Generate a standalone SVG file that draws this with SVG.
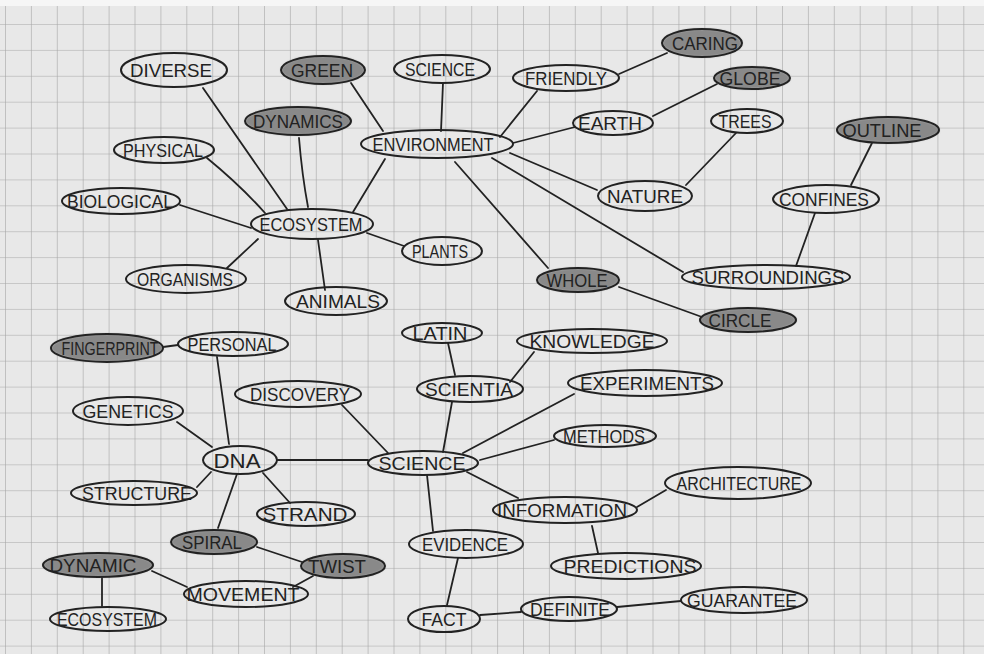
<svg xmlns="http://www.w3.org/2000/svg" width="984" height="654" viewBox="0 0 984 654">
<defs>
<pattern id="grid" x="5" y="24" width="25.9" height="25.9" patternUnits="userSpaceOnUse">
<path d="M0 0H25.9M0 0V25.9" fill="none" stroke="#a6a6a6" stroke-width="1.2"/>
</pattern>
<filter id="blur" x="-10%" y="-30%" width="120%" height="160%"><feGaussianBlur stdDeviation="1.2"/></filter>
</defs>
<style>
.n ellipse{fill:none;stroke:#222;stroke-width:2}
.s ellipse.f{fill:#898989;stroke:none;filter:url(#blur)}
.s ellipse.o{fill:none;stroke:#222;stroke-width:2}
text{font-family:"Liberation Sans","DejaVu Sans",sans-serif;font-size:19px;fill:#222;text-anchor:middle}
#connectors path{fill:none;stroke:#222;stroke-width:1.8;stroke-linecap:round}
</style>
<rect width="984" height="654" fill="#e8e8e8"/>
<rect width="984" height="654" fill="url(#grid)"/>
<rect width="984" height="6" fill="#f6f6f6"/>

<g id="connectors">
<path d="M203 88L287 209"/>
<path d="M299 138Q302 175 308 207"/>
<path d="M207 158Q240 185 265 213"/>
<path d="M180 205L251 228"/>
<path d="M227 268L258 239"/>
<path d="M318 240L325 290"/>
<path d="M367 233L404 246"/>
<path d="M353 212L385 159"/>
<path d="M351 83L383 131"/>
<path d="M443 83L441 131"/>
<path d="M537 91L500 137"/>
<path d="M619 74L667 53"/>
<path d="M513 143L575 127"/>
<path d="M653 116L717 84"/>
<path d="M510 153L597 190"/>
<path d="M686 185L736 133"/>
<path d="M492 158L683 272"/>
<path d="M455 162L548 268"/>
<path d="M619 287L702 317"/>
<path d="M872 143L851 185"/>
<path d="M815 213L796 266"/>
<path d="M163 347L178 345"/>
<path d="M217 357L229 444"/>
<path d="M177 422L212 447"/>
<path d="M197 487L211 472"/>
<path d="M277 460L368 460"/>
<path d="M263 473L290 503"/>
<path d="M237 474L218 528"/>
<path d="M257 547L302 562"/>
<path d="M313 576L293 587"/>
<path d="M152 571L187 587"/>
<path d="M102 578L102 606"/>
<path d="M342 405L388 453"/>
<path d="M452 402L443 452"/>
<path d="M448 343L455 375"/>
<path d="M510 382L534 352"/>
<path d="M463 453L574 394"/>
<path d="M480 460L554 440"/>
<path d="M467 472L518 498"/>
<path d="M427 475L433 531"/>
<path d="M637 507L666 490"/>
<path d="M592 526L598 553"/>
<path d="M458 558L447 605"/>
<path d="M480 615L521 612"/>
<path d="M617 607L681 601"/>
</g>

<g id="diverse" class="n"><ellipse cx="174" cy="70" rx="53" ry="17"/><text x="171" y="77" textLength="82" lengthAdjust="spacingAndGlyphs">DIVERSE</text></g>
<g id="green" class="s"><ellipse class="f" cx="323" cy="70" rx="42" ry="14"/><ellipse class="o" cx="323" cy="70" rx="42" ry="14"/><text x="322" y="77" textLength="62" lengthAdjust="spacingAndGlyphs">GREEN</text></g>
<g id="science-top" class="n"><ellipse cx="442" cy="69" rx="48" ry="14"/><text x="440" y="76" textLength="70" lengthAdjust="spacingAndGlyphs">SCIENCE</text></g>
<g id="friendly" class="n"><ellipse cx="566" cy="78" rx="53" ry="13"/><text x="566" y="85" textLength="82" lengthAdjust="spacingAndGlyphs">FRIENDLY</text></g>
<g id="caring" class="s"><ellipse class="f" cx="702" cy="43" rx="40" ry="14"/><ellipse class="o" cx="702" cy="43" rx="40" ry="14"/><text x="705" y="50" textLength="66" lengthAdjust="spacingAndGlyphs">CARING</text></g>
<g id="globe" class="s"><ellipse class="f" cx="752" cy="78" rx="38" ry="11"/><ellipse class="o" cx="752" cy="78" rx="38" ry="11"/><text x="750" y="85" textLength="61" lengthAdjust="spacingAndGlyphs">GLOBE</text></g>
<g id="dynamics" class="s"><ellipse class="f" cx="298" cy="121" rx="53" ry="14"/><ellipse class="o" cx="298" cy="121" rx="53" ry="14"/><text x="298" y="128" textLength="90" lengthAdjust="spacingAndGlyphs">DYNAMICS</text></g>
<g id="environment" class="n"><ellipse cx="437" cy="144" rx="76" ry="14"/><text x="433" y="151" textLength="121" lengthAdjust="spacingAndGlyphs">ENVIRONMENT</text></g>
<g id="earth" class="n"><ellipse cx="613" cy="123" rx="40" ry="12"/><text x="610" y="130" textLength="64" lengthAdjust="spacingAndGlyphs">EARTH</text></g>
<g id="trees" class="n"><ellipse cx="747" cy="121" rx="36" ry="12"/><text x="745" y="128" textLength="53" lengthAdjust="spacingAndGlyphs">TREES</text></g>
<g id="outline" class="s"><ellipse class="f" cx="888" cy="130" rx="51" ry="13"/><ellipse class="o" cx="888" cy="130" rx="51" ry="13"/><text x="882" y="137" textLength="79" lengthAdjust="spacingAndGlyphs">OUTLINE</text></g>
<g id="physical" class="n"><ellipse cx="164" cy="150" rx="50" ry="13"/><text x="163" y="157" textLength="80" lengthAdjust="spacingAndGlyphs">PHYSICAL</text></g>
<g id="nature" class="n"><ellipse cx="645" cy="196" rx="47" ry="15"/><text x="645" y="203" textLength="76" lengthAdjust="spacingAndGlyphs">NATURE</text></g>
<g id="confines" class="n"><ellipse cx="826" cy="199" rx="53" ry="14"/><text x="824" y="206" textLength="90" lengthAdjust="spacingAndGlyphs">CONFINES</text></g>
<g id="biological" class="n"><ellipse cx="121" cy="201" rx="59" ry="13"/><text x="120" y="208" textLength="106" lengthAdjust="spacingAndGlyphs">BIOLOGICAL</text></g>
<g id="ecosystem-top" class="n"><ellipse cx="312" cy="224" rx="61" ry="15"/><text x="311" y="231" textLength="103" lengthAdjust="spacingAndGlyphs">ECOSYSTEM</text></g>
<g id="plants" class="n"><ellipse cx="442" cy="251" rx="40" ry="14"/><text x="440" y="258" textLength="56" lengthAdjust="spacingAndGlyphs">PLANTS</text></g>
<g id="organisms" class="n"><ellipse cx="186" cy="279" rx="60" ry="14"/><text x="185" y="286" textLength="96" lengthAdjust="spacingAndGlyphs">ORGANISMS</text></g>
<g id="surroundings" class="n"><ellipse cx="766" cy="277" rx="84" ry="12"/><text x="768" y="284" textLength="153" lengthAdjust="spacingAndGlyphs">SURROUNDINGS</text></g>
<g id="whole" class="s"><ellipse class="f" cx="578" cy="280" rx="41" ry="12"/><ellipse class="o" cx="578" cy="280" rx="41" ry="12"/><text x="577" y="287" textLength="61" lengthAdjust="spacingAndGlyphs">WHOLE</text></g>
<g id="animals" class="n"><ellipse cx="336" cy="301" rx="51" ry="14"/><text x="338" y="308" textLength="84" lengthAdjust="spacingAndGlyphs">ANIMALS</text></g>
<g id="circle" class="s"><ellipse class="f" cx="748" cy="320" rx="48" ry="12"/><ellipse class="o" cx="748" cy="320" rx="48" ry="12"/><text x="740" y="327" textLength="63" lengthAdjust="spacingAndGlyphs">CIRCLE</text></g>

<g id="fingerprint" class="s"><ellipse class="f" cx="107" cy="348" rx="56" ry="14"/><ellipse class="o" cx="107" cy="348" rx="56" ry="14"/><text x="110" y="355" textLength="97" lengthAdjust="spacingAndGlyphs">FINGERPRINT</text></g>
<g id="personal" class="n"><ellipse cx="233" cy="344" rx="55" ry="12"/><text x="232" y="351" textLength="89" lengthAdjust="spacingAndGlyphs">PERSONAL</text></g>
<g id="latin" class="n"><ellipse cx="442" cy="333" rx="40" ry="10"/><text x="440" y="340" textLength="55" lengthAdjust="spacingAndGlyphs">LATIN</text></g>
<g id="knowledge" class="n"><ellipse cx="592" cy="341" rx="75" ry="12"/><text x="592" y="348" textLength="125" lengthAdjust="spacingAndGlyphs">KNOWLEDGE</text></g>
<g id="discovery" class="n"><ellipse cx="298" cy="394" rx="63" ry="13"/><text x="300" y="401" textLength="100" lengthAdjust="spacingAndGlyphs">DISCOVERY</text></g>
<g id="scientia" class="n"><ellipse cx="470" cy="389" rx="53" ry="13"/><text x="469" y="396" textLength="88" lengthAdjust="spacingAndGlyphs">SCIENTIA</text></g>
<g id="experiments" class="n"><ellipse cx="645" cy="383" rx="77" ry="13"/><text x="647" y="390" textLength="134" lengthAdjust="spacingAndGlyphs">EXPERIMENTS</text></g>
<g id="genetics" class="n"><ellipse cx="128" cy="411" rx="55" ry="14"/><text x="128" y="418" textLength="91" lengthAdjust="spacingAndGlyphs">GENETICS</text></g>
<g id="methods" class="n"><ellipse cx="605" cy="436" rx="51" ry="11"/><text x="604" y="443" textLength="82" lengthAdjust="spacingAndGlyphs">METHODS</text></g>
<g id="dna" class="n"><ellipse cx="240" cy="460" rx="37" ry="14"/><text x="237" y="468" textLength="47" lengthAdjust="spacingAndGlyphs" style="font-size:21px">DNA</text></g>
<g id="science" class="n"><ellipse cx="423" cy="463" rx="55" ry="12"/><text x="422" y="470" textLength="87" lengthAdjust="spacingAndGlyphs">SCIENCE</text></g>
<g id="structure" class="n"><ellipse cx="134" cy="493" rx="63" ry="12"/><text x="137" y="500" textLength="110" lengthAdjust="spacingAndGlyphs">STRUCTURE</text></g>
<g id="information" class="n"><ellipse cx="565" cy="510" rx="72" ry="13"/><text x="562" y="517" textLength="130" lengthAdjust="spacingAndGlyphs">INFORMATION</text></g>
<g id="architecture" class="n"><ellipse cx="738" cy="483" rx="73" ry="16"/><text x="739" y="490" textLength="125" lengthAdjust="spacingAndGlyphs">ARCHITECTURE</text></g>
<g id="strand" class="n"><ellipse cx="306" cy="514" rx="49" ry="12"/><text x="305" y="521" textLength="85" lengthAdjust="spacingAndGlyphs">STRAND</text></g>
<g id="evidence" class="n"><ellipse cx="466" cy="544" rx="57" ry="14"/><text x="465" y="551" textLength="86" lengthAdjust="spacingAndGlyphs">EVIDENCE</text></g>
<g id="spiral" class="s"><ellipse class="f" cx="214" cy="542" rx="43" ry="12"/><ellipse class="o" cx="214" cy="542" rx="43" ry="12"/><text x="212" y="549" textLength="60" lengthAdjust="spacingAndGlyphs">SPIRAL</text></g>
<g id="twist" class="s"><ellipse class="f" cx="343" cy="566" rx="42" ry="12"/><ellipse class="o" cx="343" cy="566" rx="42" ry="12"/><text x="337" y="573" textLength="58" lengthAdjust="spacingAndGlyphs">TWIST</text></g>
<g id="predictions" class="n"><ellipse cx="626" cy="566" rx="75" ry="13"/><text x="630" y="573" textLength="133" lengthAdjust="spacingAndGlyphs">PREDICTIONS</text></g>
<g id="dynamic" class="s"><ellipse class="f" cx="98" cy="565" rx="55" ry="12"/><ellipse class="o" cx="98" cy="565" rx="55" ry="12"/><text x="93" y="572" textLength="87" lengthAdjust="spacingAndGlyphs">DYNAMIC</text></g>
<g id="movement" class="n"><ellipse cx="246" cy="594" rx="62" ry="13"/><text x="243" y="601" textLength="113" lengthAdjust="spacingAndGlyphs">MOVEMENT</text></g>
<g id="ecosystem-bottom" class="n"><ellipse cx="108" cy="619" rx="58" ry="12"/><text x="107" y="626" textLength="100" lengthAdjust="spacingAndGlyphs">ECOSYSTEM</text></g>
<g id="fact" class="n"><ellipse cx="444" cy="619" rx="36" ry="13"/><text x="444" y="626" textLength="45" lengthAdjust="spacingAndGlyphs">FACT</text></g>
<g id="definite" class="n"><ellipse cx="569" cy="609" rx="48" ry="12"/><text x="570" y="616" textLength="80" lengthAdjust="spacingAndGlyphs">DEFINITE</text></g>
<g id="guarantee" class="n"><ellipse cx="744" cy="600" rx="63" ry="13"/><text x="742" y="607" textLength="110" lengthAdjust="spacingAndGlyphs">GUARANTEE</text></g>
</svg>
